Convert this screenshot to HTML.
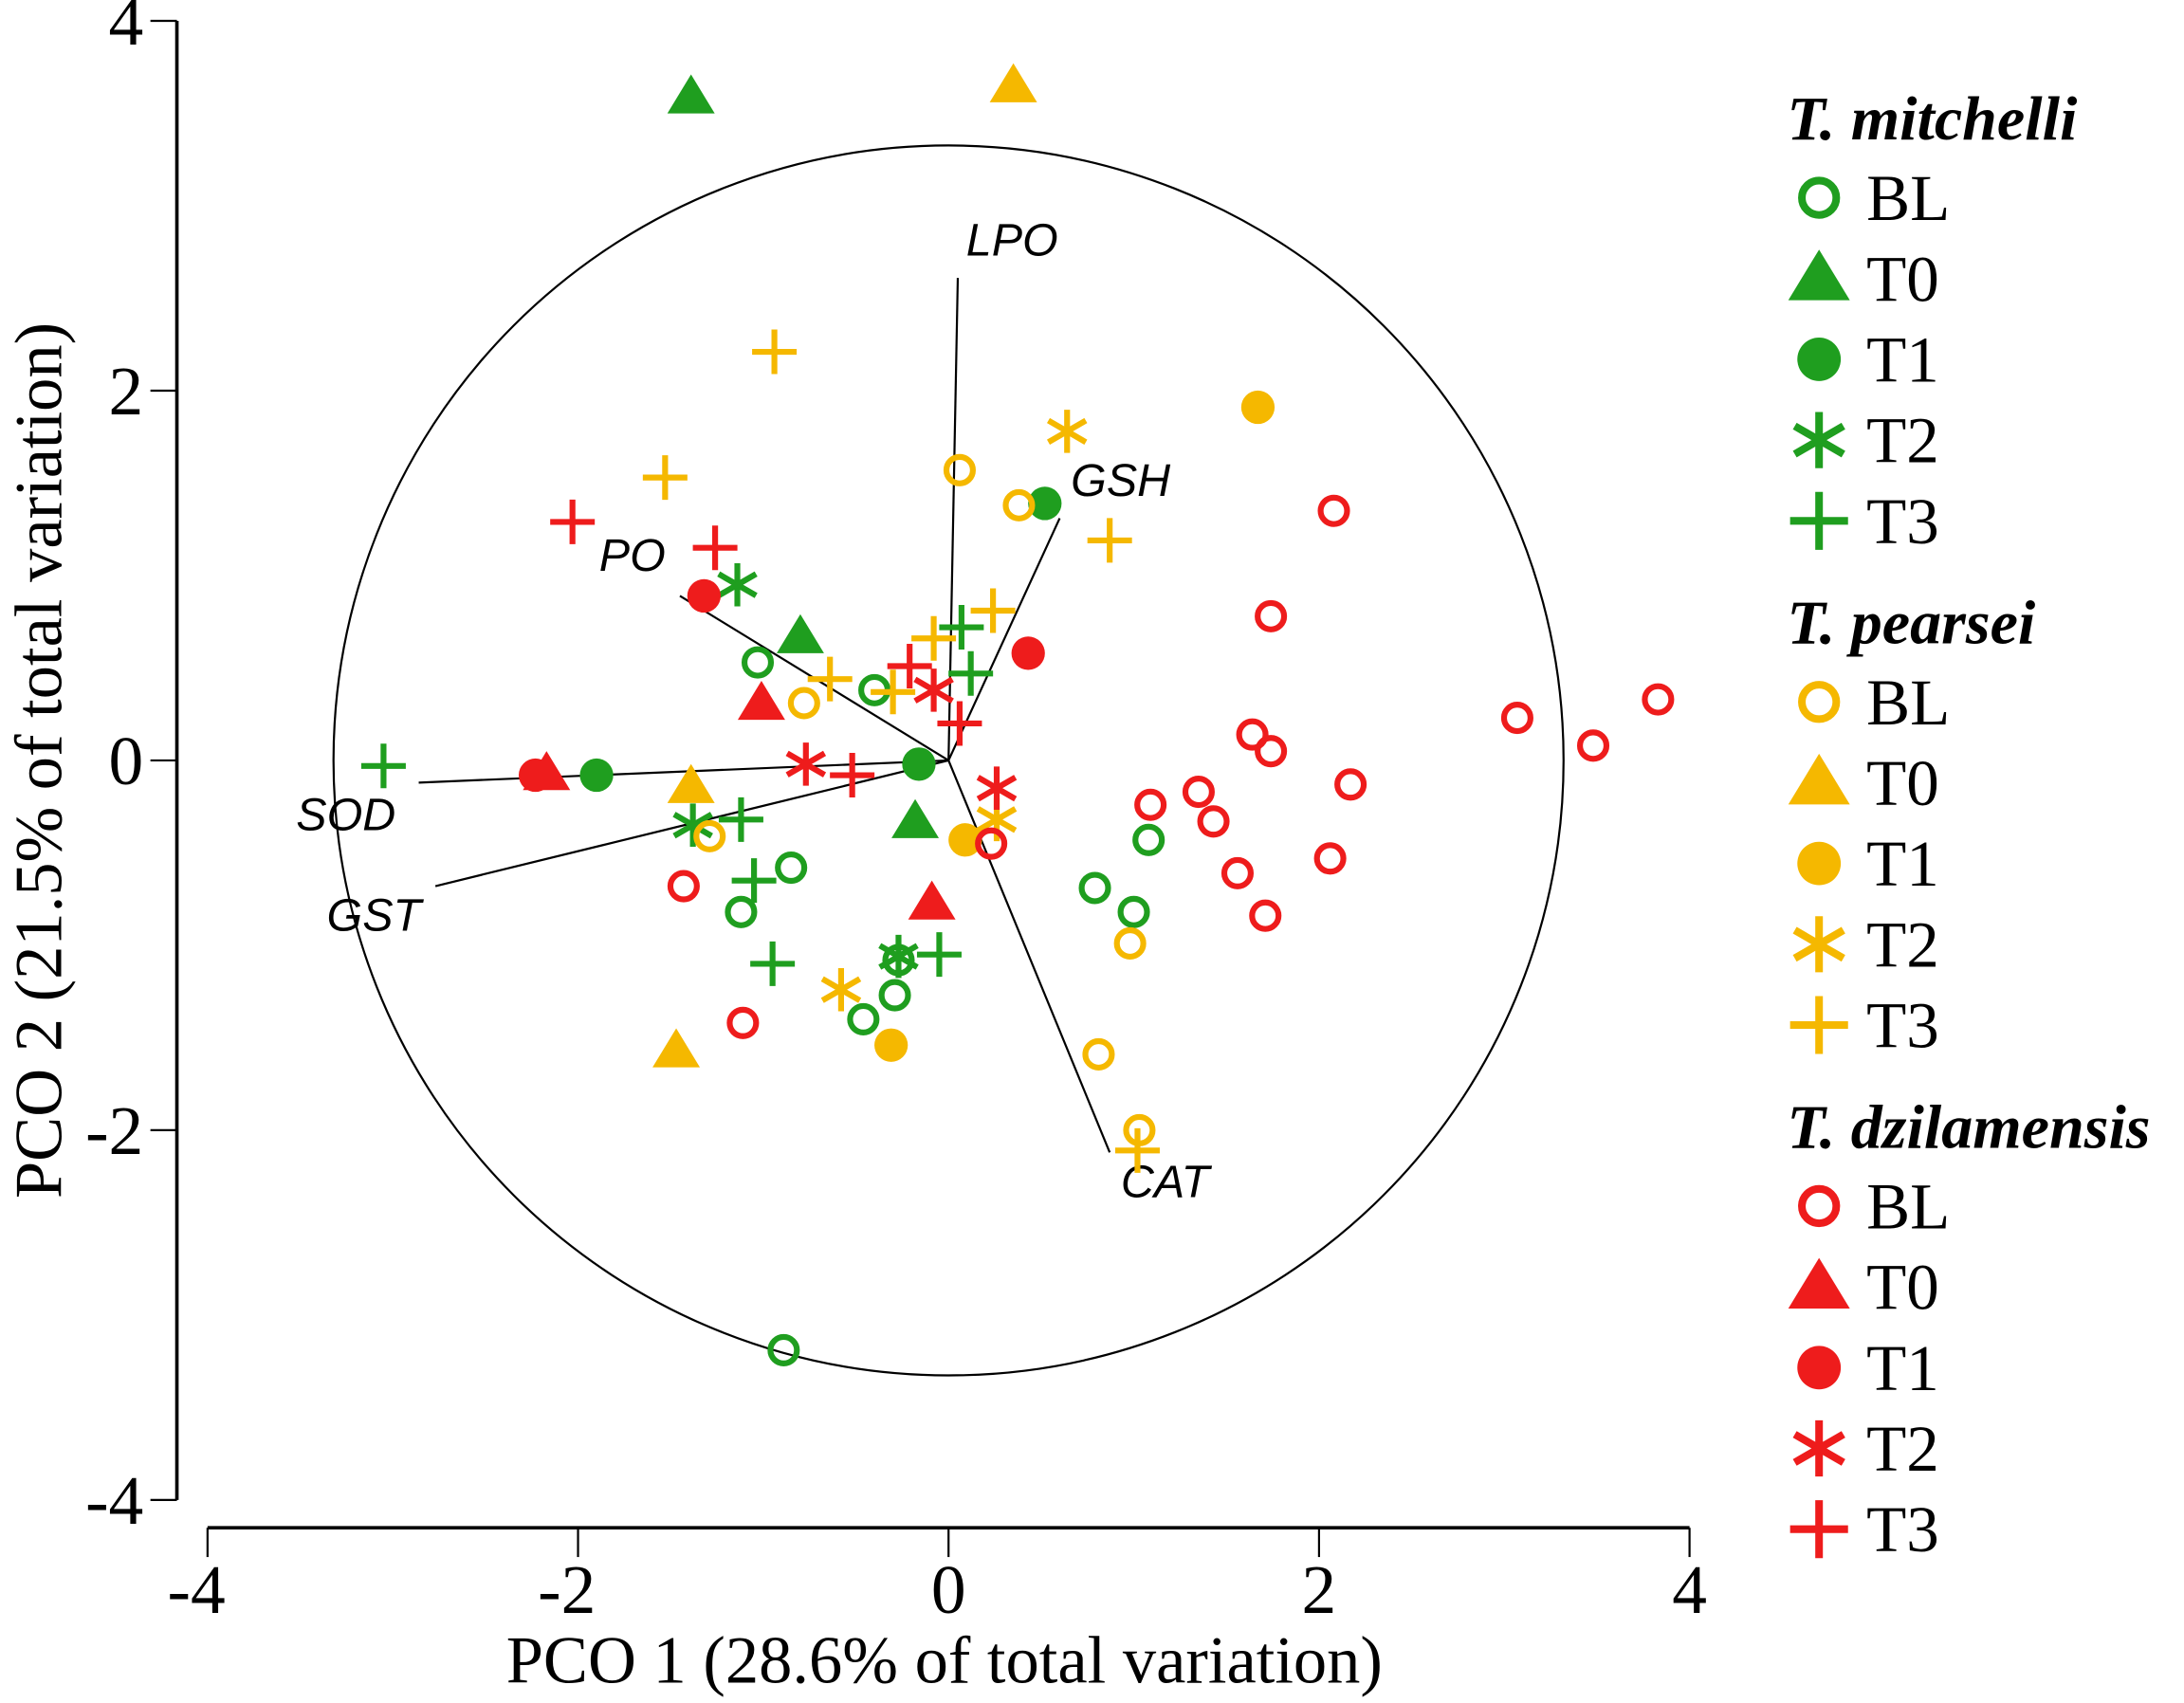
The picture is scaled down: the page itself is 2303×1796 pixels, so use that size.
<!DOCTYPE html>
<html><head><meta charset="utf-8"><style>html,body{margin:0;padding:0;background:#fff}svg{display:block}</style></head>
<body>
<svg id="chart" width="2303" height="1796" viewBox="0 0 1568 1222.8" xmlns="http://www.w3.org/2000/svg" font-family="Liberation Serif, serif">
<g id="axes"></g>
<g id="plot"></g>
<g id="legend"></g>
</svg>
<script>
const xTicks = [-4, -2, 0, 2, 4];
const yTicks = [-4, -2, 0, 2, 4];
const speciesNames = ['T. mitchelli', 'T. pearsei', 'T. dzilamensis'];
const speciesColors = ['#1f9e1f', '#f5b800', '#ee1c1c'];
const groupNames = ['BL', 'T0', 'T1', 'T2', 'T3'];
const circleRadius = 3.32;
const vectorNames = ['LPO', 'GSH', 'PO', 'SOD', 'GST', 'CAT'];
const vectorX = [0.05, 0.60, -1.45, -2.86, -2.77, 0.87];
const vectorY = [2.61, 1.31, 0.89, -0.12, -0.68, -2.12];
const mitBL = [[-1.03,0.53],[-0.40,0.38],[-0.85,-0.58],[-1.12,-0.82],[-0.27,-1.08],[-0.29,-1.27],[-0.46,-1.40],[0.79,-0.69],[1.0,-0.82],[1.08,-0.43],[-0.89,-3.19]];
const mitT0 = [[-1.39,3.59],[-0.80,0.67],[-0.18,-0.33]];
const mitT1 = [[-1.90,-0.08],[-0.16,-0.02],[0.52,1.39]];
const mitT2 = [[-1.14,0.95],[-1.38,-0.35],[-0.27,-1.06]];
const mitT3 = [[-3.05,-0.03],[-1.12,-0.32],[-1.05,-0.65],[-0.95,-1.10],[-0.05,-1.05],[0.07,0.72],[0.12,0.47]];
const peaBL = [[0.06,1.57],[0.38,1.38],[-0.78,0.31],[-1.29,-0.41],[0.98,-0.99],[0.81,-1.59],[1.03,-2.0]];
const peaT0 = [[0.35,3.65],[-1.39,-0.14],[-1.47,-1.57]];
const peaT1 = [[1.67,1.91],[0.09,-0.43],[-0.31,-1.54]];
const peaT2 = [[0.64,1.78],[0.26,-0.32],[-0.58,-1.24]];
const peaT3 = [[-0.94,2.21],[-1.53,1.53],[0.87,1.19],[0.24,0.81],[-0.08,0.66],[-0.64,0.44],[-0.30,0.37],[1.02,-2.11]];
const dziBL = [[2.08,1.35],[1.74,0.78],[1.64,0.14],[1.74,0.05],[3.07,0.23],[3.48,0.08],[3.83,0.33],[2.17,-0.13],[1.09,-0.24],[1.35,-0.17],[1.43,-0.33],[1.56,-0.61],[2.06,-0.53],[1.71,-0.84],[-1.43,-0.68],[-1.11,-1.42],[0.23,-0.45]];
const dziT0 = [[-2.17,-0.07],[-1.01,0.31],[-0.09,-0.77]];
const dziT1 = [[-2.23,-0.08],[-1.32,0.89],[0.43,0.58]];
const dziT2 = [[-0.77,-0.02],[-0.08,0.38],[0.26,-0.15]];
const dziT3 = [[-2.03,1.29],[-1.26,1.15],[-0.52,-0.08],[-0.21,0.51],[0.06,0.20]];

const series = [[mitBL,mitT0,mitT1,mitT2,mitT3],[peaBL,peaT0,peaT1,peaT2,peaT3],[dziBL,dziT0,dziT1,dziT2,dziT3]];
const NS='http://www.w3.org/2000/svg';
const X0=149,X1=1213,Y0=1077,Y1=15;
function sx(v){return X0+(v+4)/8*(X1-X0);}
function sy(v){return Y0-(v+4)/8*(Y0-Y1);}
function mk(tag,attrs,parent,text){const e=document.createElementNS(NS,tag);for(const k in attrs)e.setAttribute(k,attrs[k]);if(text!==undefined)e.textContent=text;parent.appendChild(e);return e;}
const axes=document.getElementById('axes'),plot=document.getElementById('plot'),legend=document.getElementById('legend');

let l=mk('line',{x1:127,y1:sy(4),x2:127,y2:sy(-4),stroke:'#000','stroke-width':2.5},axes);


yTicks.forEach(t=>{
  let tk=mk('line',{x1:108,x2:127,y1:sy(t),y2:sy(t),stroke:'#000','stroke-width':1.5},axes);
  
  
  let tx=mk('text',{x:103,y:sy(t)+17,'text-anchor':'end','font-size':50},axes,String(t));
  
  
});
l=mk('line',{x1:sx(-4),y1:1097,x2:sx(4),y2:1097,stroke:'#000','stroke-width':2.5},axes);


xTicks.forEach(t=>{
  let tk=mk('line',{x1:sx(t),x2:sx(t),y1:1097,y2:1118,stroke:'#000','stroke-width':1.5},axes);
  
  
  let tx=mk('text',{x:sx(t)-(t<0?8:0),y:1158,'text-anchor':'middle','font-size':50},axes,String(t));
  
  
});
let tt=mk('text',{x:sx(0)-3,y:1208,'text-anchor':'middle','font-size':48},axes,'PCO 1 (28.6% of total variation)');


tt=mk('text',{x:0,y:0,'text-anchor':'middle','font-size':48,transform:'translate(44,'+sy(0)+') rotate(-90)'},axes,'PCO 2 (21.5% of total variation)');



const rpx=circleRadius*(X1-X0)/8;
let c=mk('circle',{cx:sx(0),cy:sy(0),r:rpx,fill:'none',stroke:'#000','stroke-width':1.5},plot);



const labOff=[[6,-16],[8,-16],[-58,-18],[-88,34],[-78,32],[8,32]];
vectorNames.forEach((n,i)=>{
  let v=mk('line',{x1:sx(0),y1:sy(0),x2:sx(vectorX[i]),y2:sy(vectorY[i]),stroke:'#000','stroke-width':1.5},plot);
  
  
  let t=mk('text',{x:sx(vectorX[i])+labOff[i][0],y:sy(vectorY[i])+labOff[i][1],'font-size':33,'font-style':'italic','font-family':'Liberation Sans, sans-serif'},plot,n);
  
  
});

function marker(type,x,y,col,parent,s){
  const grp=mk('g',{},parent);
  const sw=4.2*s;
  if(type===0){mk('circle',{cx:x,cy:y,r:9.5*s,fill:'none',stroke:col,'stroke-width':sw},grp);}
  else if(type===1){mk('polygon',{points:`${x},${y-16*s} ${x-17*s},${y+12*s} ${x+17*s},${y+12*s}`,fill:col},grp);}
  else if(type===2){mk('circle',{cx:x,cy:y,r:12*s,fill:col},grp);}
  else if(type===3){[90,30,150].forEach(a=>{const r=a*Math.PI/180,dx=15.5*s*Math.cos(r),dy=15.5*s*Math.sin(r);mk('line',{x1:x-dx,y1:y-dy,x2:x+dx,y2:y+dy,stroke:col,'stroke-width':sw},grp);});}
  else {mk('line',{x1:x-16*s,y1:y,x2:x+16*s,y2:y,stroke:col,'stroke-width':sw},grp);mk('line',{x1:x,y1:y-16*s,x2:x,y2:y+16*s,stroke:col,'stroke-width':sw},grp);}
  return grp;
}
const spKey=['mitchelli','pearsei','dzilamensis'];
series.forEach((sp,si)=>sp.forEach((pts,gi)=>pts.forEach(p=>{
  const m=marker(gi,sx(p[0]),sy(p[1]),speciesColors[si],plot,1);
  
  
})));

speciesNames.forEach((n,si)=>{
  const base=si*362;
  let t=mk('text',{x:1283,y:100+base,'font-size':45,'font-weight':'bold','font-style':'italic'},legend,n);
  
  
  groupNames.forEach((g,gi)=>{
    const cy=142+base+gi*58;
    const m=marker(gi,1306,cy,speciesColors[si],legend,1.3);
    
    
    let tx=mk('text',{x:1340,y:cy+16,'font-size':47},legend,g);
    
    
  });
});
</script>
</body></html>
